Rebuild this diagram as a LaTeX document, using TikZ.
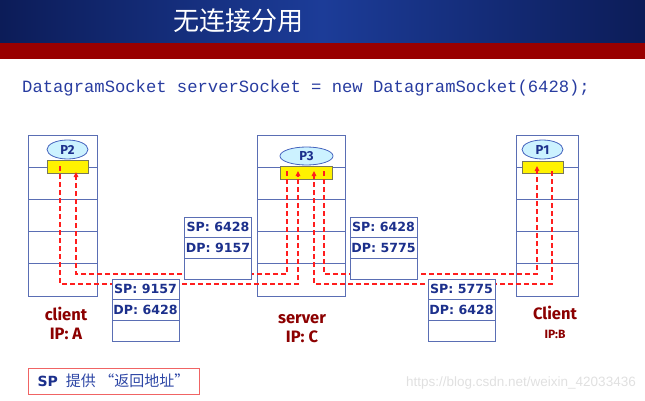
\documentclass[tikz,border=0pt]{standalone}
\usepackage{fontspec}
\setmainfont{Fira Sans}
\newfontfamily\cjk{Noto Sans CJK SC}
\newfontfamily\codefont{Liberation Mono}
\newfontfamily\urlfont{Liberation Sans}
\newfontfamily\segfont{DejaVu Sans}
\usetikzlibrary{arrows.meta,positioning,shapes.geometric}

\definecolor{hdrDark}{RGB}{12,28,88}
\definecolor{hdrMid}{RGB}{28,60,152}
\definecolor{hdrRed}{RGB}{153,0,0}
\definecolor{codeBlue}{RGB}{40,60,160}
\definecolor{stackBlue}{RGB}{90,110,180}
\definecolor{pktBlue}{RGB}{28,48,140}
\definecolor{lblRed}{RGB}{140,0,0}
\definecolor{ovalFill}{RGB}{204,242,255}
\definecolor{ovalLine}{RGB}{70,100,190}
\definecolor{sockLine}{RGB}{120,120,90}
\definecolor{dashRed}{RGB}{255,30,30}
\definecolor{noteRed}{RGB}{240,100,100}
\definecolor{noteBlue}{RGB}{45,70,165}

\tikzset{
  slot/.style={draw=stackBlue, line width=0.8pt, minimum height=32.2pt, inner sep=0pt, outer sep=0pt},
  field/.style={draw=stackBlue, fill=white, line width=0.8pt, minimum width=67pt, minimum height=20.67pt,
    inner sep=0pt, outer sep=0pt, text=pktBlue, font=\segfont\bfseries\fontsize{12.6}{13}\selectfont},
  proc/.style={ellipse, draw=ovalLine, fill=ovalFill, line width=0.8pt, inner sep=0pt,
    text=pktBlue, font=\bfseries\fontsize{13}{13}\selectfont},
  sock/.style={draw=sockLine, fill=yellow, line width=0.6pt, inner sep=0pt},
  flow/.style={draw=dashRed, line width=1.1pt, dash pattern=on 5pt off 3pt, -{Triangle[length=5pt,width=4.5pt]}},
  host/.style={align=center, text=lblRed, font=\bfseries\fontsize{16.5}{19}\selectfont},
}

\begin{document}
\begin{tikzpicture}[x=1pt,y=-1pt]
        \useasboundingbox (0,0) rectangle (645,401);
        %header
        \shade[left color=hdrDark, right color=hdrDark, middle color=hdrMid] (0,0) rectangle (645,43);
        \fill[hdrRed] (0,43) rectangle (645,59);
        \node[text=white, font=\cjk\fontsize{26}{26}\selectfont] (ttl) at (238,21) {无连接分用};
        \node[anchor=west, inner sep=0pt, text=codeBlue, font=\codefont\fontsize{17.2}{20}\selectfont] (code) at (22,88)
          {DatagramSocket serverSocket = new DatagramSocket(6428);};
        %hosts: name/x/width
        \foreach \n/\x/\w in {a/62.5/69, c/301/88, b/547/62} {
          \node[slot, minimum width=\w pt, anchor=north] (\n1) at (\x,135) {};
          \foreach \i [count=\j from 2] in {1,...,4}
            \node[slot, minimum width=\w pt, anchor=north] (\n\j) at (\n\i.south) {};
        }
        \node[proc, minimum width=41pt, minimum height=19pt] (p2) at (67.5,149.5) {P2};
        \node[proc, minimum width=53pt, minimum height=18pt] (p3) at (306.5,156) {P3};
        \node[proc, minimum width=41pt, minimum height=19pt] (p1) at (542.5,149.5) {P1};
        \node[sock, minimum width=41pt, minimum height=13pt] (sockA) at (67.5,166.5) {};
        \node[sock, minimum width=52pt, minimum height=13pt] (sockC) at (306,172.5) {};
        \node[sock, minimum width=41pt, minimum height=12pt] (sockB) at (542.5,167) {};
        %ports and bus levels
        \coordinate (aOut) at (60,166);
        \coordinate (aIn) at (76,172);
        \coordinate (cOutA) at (287,171);
        \coordinate (cInA) at (298,171);
        \coordinate (cInB) at (314,171);
        \coordinate (cOutB) at (324,171);
        \coordinate (bIn) at (537,166);
        \coordinate (bOut) at (552,171);
        \coordinate (hibus) at (0,274);
        \coordinate (lobus) at (0,284);
        \draw[flow] (aOut) -- (aOut |- lobus) -| (cInA);
        \draw[flow] (cOutA) -- (cOutA |- hibus) -| (aIn);
        \draw[flow] (bOut) -- (bOut |- lobus) -| (cInB);
        \draw[flow] (cOutB) -- (cOutB |- hibus) -| (bIn);
        %segments: name/x/top/sp/dp
        \foreach \n/\x/\y/\s/\d in {pk1/145.5/279/9157/6428, pk2/218/217/6428/9157,
                                    pk3/383.5/217/6428/5775, pk4/461.5/279/5775/6428} {
          \node[field, anchor=north] (\n sp) at (\x,\y) {SP: \s};
          \node[field, anchor=north] (\n dp) at (\n sp.south) {DP: \d};
          \node[field, anchor=north] (\n x) at (\n dp.south) {};
        }
        \node[host] (labA) at (66,323) {client\\IP: A};
        \node[host] (labC) at (302,329) {server\\IP: C};
        \node[host] (labB) at (555,322) {Client\\{\fontsize{12}{12}\selectfont IP:B}};
        \node[draw=noteRed, line width=1pt, minimum width=171pt, minimum height=26pt, inner sep=0pt] (nt) at (113.5,381)
          {{\segfont\bfseries\fontsize{14}{14}\selectfont\color{pktBlue}SP}\hspace{8pt}{\cjk\fontsize{15}{15}\selectfont\color{noteBlue}提供 “返回地址”}};
        \node[anchor=east, inner sep=0pt, text=black!12, font=\urlfont\fontsize{13.5}{14}\selectfont] (wm) at (636,383)
          {https://blog.csdn.net/weixin\_42033436};
    \end{tikzpicture}
\end{document}
